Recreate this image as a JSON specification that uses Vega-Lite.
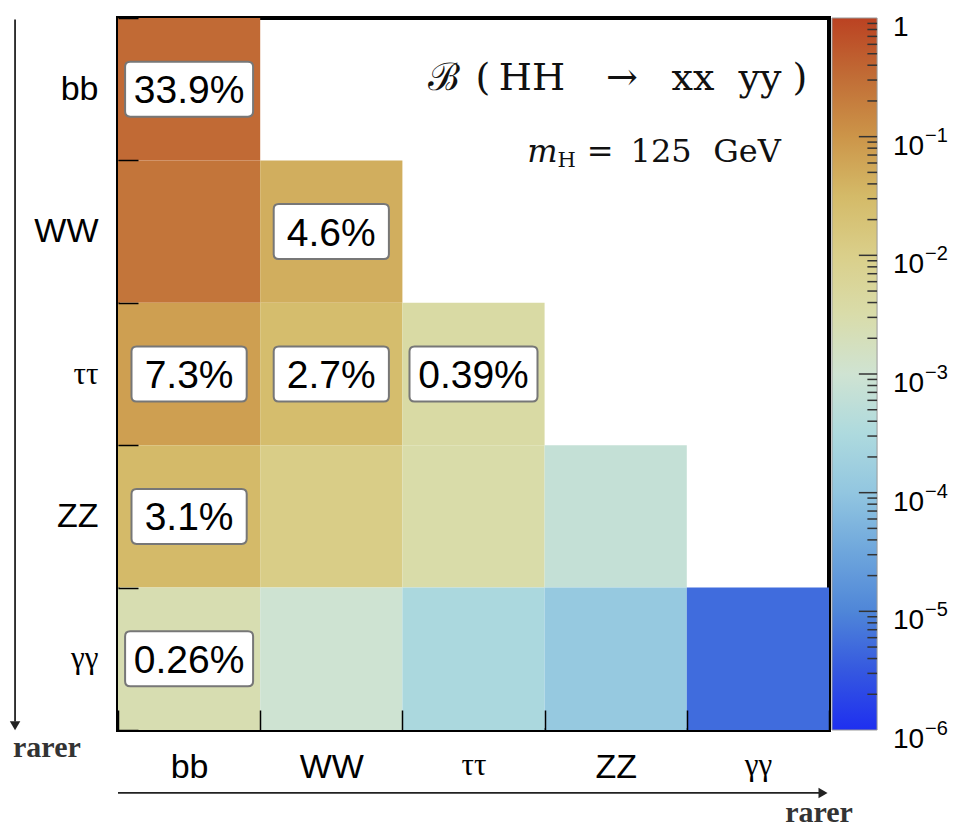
{
  "$schema": "https://vega.github.io/schema/vega-lite/v6.json",
  "description": "Branching fractions of HH into pairs of Higgs decay channels, m_H = 125 GeV.",
  "autosize": {"type": "none"},
  "padding": {"left": 118, "top": 18, "right": 135, "bottom": 97},
  "width": 711,
  "height": 712,
  "background": "white",
  "config": {
    "view": {"stroke": "#000", "strokeWidth": 4, "fill": "white"},
    "axis": {"grid": false}
  },
  "datasets": {
    "cells": [
      {"row": "bb", "col": "bb", "v": 0.339, "label": "33.9%"},
      {"row": "WW", "col": "bb", "v": 0.249, "label": ""},
      {"row": "WW", "col": "WW", "v": 0.046, "label": "4.6%"},
      {"row": "ττ", "col": "bb", "v": 0.073, "label": "7.3%"},
      {"row": "ττ", "col": "WW", "v": 0.027, "label": "2.7%"},
      {"row": "ττ", "col": "ττ", "v": 0.0039, "label": "0.39%"},
      {"row": "ZZ", "col": "bb", "v": 0.031, "label": "3.1%"},
      {"row": "ZZ", "col": "WW", "v": 0.0112, "label": ""},
      {"row": "ZZ", "col": "ττ", "v": 0.00329, "label": ""},
      {"row": "ZZ", "col": "ZZ", "v": 0.000686, "label": ""},
      {"row": "γγ", "col": "bb", "v": 0.0026, "label": "0.26%"},
      {"row": "γγ", "col": "WW", "v": 0.00097, "label": ""},
      {"row": "γγ", "col": "ττ", "v": 0.000285, "label": ""},
      {"row": "γγ", "col": "ZZ", "v": 0.000119, "label": ""},
      {"row": "γγ", "col": "γγ", "v": 0.00000515, "label": ""}
    ],
    "colorbar": [
      {"lo": 0.000001, "hi": 1}
    ],
    "colorbarLabels": [
      {"v": 1, "base": "1", "exp": ""},
      {"v": 0.1, "base": "10", "exp": "−1"},
      {"v": 0.01, "base": "10", "exp": "−2"},
      {"v": 0.001, "base": "10", "exp": "−3"},
      {"v": 0.0001, "base": "10", "exp": "−4"},
      {"v": 0.00001, "base": "10", "exp": "−5"},
      {"v": 0.000001, "base": "10", "exp": "−6"}
    ],
    "colorbarTicks": [
      {"v": 0.00001, "kind": "major"}, {"v": 0.0001, "kind": "major"}, {"v": 0.001, "kind": "major"},
      {"v": 0.01, "kind": "major"}, {"v": 0.1, "kind": "major"},
      {"v": 0.000002, "kind": "minor"}, {"v": 0.000003, "kind": "minor"}, {"v": 0.000004, "kind": "minor"}, {"v": 0.000005, "kind": "minor"},
      {"v": 0.000006, "kind": "minor"}, {"v": 0.000007, "kind": "minor"}, {"v": 0.000008, "kind": "minor"}, {"v": 0.000009, "kind": "minor"},
      {"v": 0.00002, "kind": "minor"}, {"v": 0.00003, "kind": "minor"}, {"v": 0.00004, "kind": "minor"}, {"v": 0.00005, "kind": "minor"},
      {"v": 0.00006, "kind": "minor"}, {"v": 0.00007, "kind": "minor"}, {"v": 0.00008, "kind": "minor"}, {"v": 0.00009, "kind": "minor"},
      {"v": 0.0002, "kind": "minor"}, {"v": 0.0003, "kind": "minor"}, {"v": 0.0004, "kind": "minor"}, {"v": 0.0005, "kind": "minor"},
      {"v": 0.0006, "kind": "minor"}, {"v": 0.0007, "kind": "minor"}, {"v": 0.0008, "kind": "minor"}, {"v": 0.0009, "kind": "minor"},
      {"v": 0.002, "kind": "minor"}, {"v": 0.003, "kind": "minor"}, {"v": 0.004, "kind": "minor"}, {"v": 0.005, "kind": "minor"},
      {"v": 0.006, "kind": "minor"}, {"v": 0.007, "kind": "minor"}, {"v": 0.008, "kind": "minor"}, {"v": 0.009, "kind": "minor"},
      {"v": 0.02, "kind": "minor"}, {"v": 0.03, "kind": "minor"}, {"v": 0.04, "kind": "minor"}, {"v": 0.05, "kind": "minor"},
      {"v": 0.06, "kind": "minor"}, {"v": 0.07, "kind": "minor"}, {"v": 0.08, "kind": "minor"}, {"v": 0.09, "kind": "minor"},
      {"v": 0.2, "kind": "minor"}, {"v": 0.3, "kind": "minor"}, {"v": 0.4, "kind": "minor"}, {"v": 0.5, "kind": "minor"},
      {"v": 0.6, "kind": "minor"}, {"v": 0.7, "kind": "minor"}, {"v": 0.8, "kind": "minor"}, {"v": 0.9, "kind": "minor"}
    ]
  },
  "resolve": {"scale": {"x": "independent", "y": "independent"}},
  "layer": [
    {
      "data": {"name": "cells"},
      "encoding": {
        "x": {
          "field": "col", "type": "nominal",
          "sort": ["bb", "WW", "ττ", "ZZ", "γγ"],
          "scale": {"paddingInner": 0, "paddingOuter": 0},
          "axis": {
            "title": null, "orient": "bottom", "domain": false,
            "ticks": true, "tickBand": "extent", "tickSize": -20, "tickColor": "#000", "tickWidth": 1.5,
            "labelAngle": 0, "labelPadding": 40, "labelColor": "#000",
            "labelFont": {"condition": {"test": "datum.value === 'ττ' || datum.value === 'γγ'", "value": "Liberation Serif"}, "value": "Liberation Sans"},
            "labelFontSize": {"condition": {"test": "datum.value === 'ττ' || datum.value === 'γγ'", "value": 31}, "value": 34}
          }
        },
        "y": {
          "field": "row", "type": "nominal",
          "sort": ["bb", "WW", "ττ", "ZZ", "γγ"],
          "scale": {"paddingInner": 0, "paddingOuter": 0},
          "axis": {
            "title": null, "orient": "left", "domain": false,
            "ticks": true, "tickBand": "extent", "tickSize": -20, "tickColor": "#000", "tickWidth": 1.5,
            "labelPadding": 40, "labelColor": "#000",
            "labelFont": {"condition": {"test": "datum.value === 'ττ' || datum.value === 'γγ'", "value": "Liberation Serif"}, "value": "Liberation Sans"},
            "labelFontSize": {"condition": {"test": "datum.value === 'ττ' || datum.value === 'γγ'", "value": 31}, "value": 34}
          }
        }
      },
      "layer": [
        {
          "mark": {"type": "rect", "strokeWidth": 0},
          "encoding": {
            "color": {
              "field": "v", "type": "quantitative",
              "scale": {
                "type": "log",
                "domain": [0.000001, 0.00000316, 0.00001, 0.0000316, 0.0001, 0.000316, 0.001, 0.00316, 0.01, 0.0316, 0.1, 0.316, 1],
                "range": ["#1e2ff0", "#3558e0", "#4f86d8", "#6ea6dc", "#92c6e0", "#aedade", "#cfe3d2", "#d9dcaa", "#dacf8a", "#d4ba68", "#cc9549", "#c16d36", "#bb4222"],
                "interpolate": "rgb"
              },
              "legend": null
            }
          }
        },
        {
          "transform": [{"filter": "datum.label != ''"}],
          "mark": {"type": "point", "filled": true, "fill": "white", "stroke": "#777", "strokeWidth": 2, "opacity": 1, "size": 16384},
          "encoding": {
            "shape": {
              "condition": {
                "test": "length(datum.label) > 4",
                "value": "M-0.92,-0.43 L0.92,-0.43 Q1,-0.43 1,-0.35 L1,0.35 Q1,0.43 0.92,0.43 L-0.92,0.43 Q-1,0.43 -1,0.35 L-1,-0.35 Q-1,-0.43 -0.92,-0.43 Z"
              },
              "value": "M-0.82,-0.43 L0.82,-0.43 Q0.9,-0.43 0.9,-0.35 L0.9,0.35 Q0.9,0.43 0.82,0.43 L-0.82,0.43 Q-0.9,0.43 -0.9,0.35 L-0.9,-0.35 Q-0.9,-0.43 -0.82,-0.43 Z"
            }
          }
        },
        {
          "transform": [{"filter": "datum.label != ''"}],
          "mark": {"type": "text", "font": "Liberation Sans", "fontSize": 39, "color": "#000", "align": "center", "baseline": "middle", "dy": 2},
          "encoding": {"text": {"field": "label"}}
        }
      ]
    },
    {
      "layer": [
        {
          "data": {"values": [{"x": -0.724, "y": 4.99, "y2": 0.06}]},
          "mark": {"type": "rule", "color": "#222", "strokeWidth": 1.8, "clip": false},
          "encoding": {
            "x": {"field": "x", "type": "quantitative", "scale": {"domain": [0, 5]}, "axis": null},
            "y": {"field": "y", "type": "quantitative", "scale": {"domain": [0, 5]}, "axis": null},
            "y2": {"field": "y2"}
          }
        },
        {
          "data": {"values": [{"x": 0, "x2": 4.94, "y": -0.442}]},
          "mark": {"type": "rule", "color": "#222", "strokeWidth": 1.8, "clip": false},
          "encoding": {
            "x": {"field": "x", "type": "quantitative", "scale": {"domain": [0, 5]}, "axis": null},
            "x2": {"field": "x2"},
            "y": {"field": "y", "type": "quantitative", "scale": {"domain": [0, 5]}, "axis": null}
          }
        },
        {
          "data": {"values": [{"x": -0.724, "y": 0.03, "dir": "down"}, {"x": 4.958, "y": -0.442, "dir": "right"}]},
          "mark": {"type": "point", "filled": true, "color": "#222", "opacity": 1, "size": 110, "clip": false},
          "encoding": {
            "x": {"field": "x", "type": "quantitative", "scale": {"domain": [0, 5]}, "axis": null},
            "y": {"field": "y", "type": "quantitative", "scale": {"domain": [0, 5]}, "axis": null},
            "shape": {"condition": {"test": "datum.dir === 'down'", "value": "triangle-down"}, "value": "triangle-right"}
          }
        },
        {
          "data": {"values": [{"x": -0.5, "y": -0.19, "t": "rarer"}, {"x": 4.93, "y": -0.645, "t": "rarer"}]},
          "mark": {"type": "text", "font": "Liberation Serif", "fontWeight": "bold", "fontSize": 30, "color": "#333", "align": "center", "baseline": "alphabetic", "clip": false},
          "encoding": {
            "x": {"field": "x", "type": "quantitative", "scale": {"domain": [0, 5]}, "axis": null},
            "y": {"field": "y", "type": "quantitative", "scale": {"domain": [0, 5]}, "axis": null},
            "text": {"field": "t"}
          }
        },
        {
          "data": {"values": [
            {"x": 2.293, "y": 4.494, "t": "ℬ"},
            {"x": 2.567, "y": 4.494, "t": "("},
            {"x": 2.911, "y": 4.494, "t": "HH"},
            {"x": 3.544, "y": 4.494, "t": "→"},
            {"x": 4.044, "y": 4.494, "t": "xx"},
            {"x": 4.515, "y": 4.494, "t": "yy"},
            {"x": 4.796, "y": 4.494, "t": ")"}
          ]},
          "mark": {"type": "text", "font": "DejaVu Serif", "fontSize": 38, "color": "#111", "align": "center", "baseline": "alphabetic", "clip": false},
          "encoding": {
            "x": {"field": "x", "type": "quantitative", "scale": {"domain": [0, 5]}, "axis": null},
            "y": {"field": "y", "type": "quantitative", "scale": {"domain": [0, 5]}, "axis": null},
            "text": {"field": "t"}
          }
        },
        {
          "data": {"values": [{"x": 2.985, "y": 3.989, "t": "m"}]},
          "mark": {"type": "text", "font": "DejaVu Serif", "fontStyle": "italic", "fontSize": 32, "color": "#111", "align": "center", "baseline": "alphabetic", "clip": false},
          "encoding": {
            "x": {"field": "x", "type": "quantitative", "scale": {"domain": [0, 5]}, "axis": null},
            "y": {"field": "y", "type": "quantitative", "scale": {"domain": [0, 5]}, "axis": null},
            "text": {"field": "t"}
          }
        },
        {
          "data": {"values": [{"x": 3.155, "y": 3.954, "t": "H"}]},
          "mark": {"type": "text", "font": "DejaVu Serif", "fontSize": 21, "color": "#111", "align": "center", "baseline": "alphabetic", "clip": false},
          "encoding": {
            "x": {"field": "x", "type": "quantitative", "scale": {"domain": [0, 5]}, "axis": null},
            "y": {"field": "y", "type": "quantitative", "scale": {"domain": [0, 5]}, "axis": null},
            "text": {"field": "t"}
          }
        },
        {
          "data": {"values": [
            {"x": 3.39, "y": 3.989, "t": "="},
            {"x": 3.819, "y": 3.989, "t": "125"},
            {"x": 4.423, "y": 3.989, "t": "GeV"}
          ]},
          "mark": {"type": "text", "font": "DejaVu Serif", "fontSize": 32, "color": "#111", "align": "center", "baseline": "alphabetic", "clip": false},
          "encoding": {
            "x": {"field": "x", "type": "quantitative", "scale": {"domain": [0, 5]}, "axis": null},
            "y": {"field": "y", "type": "quantitative", "scale": {"domain": [0, 5]}, "axis": null},
            "text": {"field": "t"}
          }
        }
      ]
    },
    {
      "layer": [
        {
          "data": {"name": "colorbar"},
          "mark": {
            "type": "rect", "clip": false, "stroke": "#999", "strokeWidth": 1,
            "fill": {
              "gradient": "linear", "x1": 0, "y1": 1, "x2": 0, "y2": 0,
              "stops": [
                {"offset": 0, "color": "#1e2ff0"},
                {"offset": 0.0833, "color": "#3558e0"},
                {"offset": 0.1667, "color": "#4f86d8"},
                {"offset": 0.25, "color": "#6ea6dc"},
                {"offset": 0.3333, "color": "#92c6e0"},
                {"offset": 0.4167, "color": "#aedade"},
                {"offset": 0.5, "color": "#cfe3d2"},
                {"offset": 0.5833, "color": "#d9dcaa"},
                {"offset": 0.6667, "color": "#dacf8a"},
                {"offset": 0.75, "color": "#d4ba68"},
                {"offset": 0.8333, "color": "#cc9549"},
                {"offset": 0.9167, "color": "#c16d36"},
                {"offset": 1, "color": "#bb4222"}
              ]
            }
          },
          "encoding": {
            "x": {"datum": 5.021, "type": "quantitative", "scale": {"domain": [0, 5]}, "axis": null},
            "x2": {"datum": 5.338},
            "y": {"field": "lo", "type": "quantitative", "scale": {"type": "log", "domain": [0.000001, 1]}, "axis": null},
            "y2": {"field": "hi"}
          }
        },
        {
          "data": {"name": "colorbarTicks"},
          "transform": [{"filter": "datum.kind === 'major'"}],
          "mark": {"type": "rule", "color": "#333", "strokeWidth": 1.5, "clip": false},
          "encoding": {
            "x": {"datum": 5.21, "type": "quantitative", "scale": {"domain": [0, 5]}, "axis": null},
            "x2": {"datum": 5.338},
            "y": {"field": "v", "type": "quantitative", "scale": {"type": "log", "domain": [0.000001, 1]}, "axis": null}
          }
        },
        {
          "data": {"name": "colorbarTicks"},
          "transform": [{"filter": "datum.kind === 'minor'"}],
          "mark": {"type": "rule", "color": "#333", "strokeWidth": 1.5, "clip": false},
          "encoding": {
            "x": {"datum": 5.27, "type": "quantitative", "scale": {"domain": [0, 5]}, "axis": null},
            "x2": {"datum": 5.338},
            "y": {"field": "v", "type": "quantitative", "scale": {"type": "log", "domain": [0.000001, 1]}, "axis": null}
          }
        },
        {
          "data": {"name": "colorbarLabels"},
          "mark": {"type": "text", "font": "Liberation Sans", "fontSize": 28, "color": "#000", "align": "left", "baseline": "alphabetic", "dy": 18, "clip": false},
          "encoding": {
            "x": {"datum": 5.45, "type": "quantitative", "scale": {"domain": [0, 5]}, "axis": null},
            "y": {"field": "v", "type": "quantitative", "scale": {"type": "log", "domain": [0.000001, 1]}, "axis": null},
            "text": {"field": "base"}
          }
        },
        {
          "data": {"name": "colorbarLabels"},
          "mark": {"type": "text", "font": "Liberation Sans", "fontSize": 20, "color": "#000", "align": "left", "baseline": "alphabetic", "dx": 32, "dy": 5, "clip": false},
          "encoding": {
            "x": {"datum": 5.45, "type": "quantitative", "scale": {"domain": [0, 5]}, "axis": null},
            "y": {"field": "v", "type": "quantitative", "scale": {"type": "log", "domain": [0.000001, 1]}, "axis": null},
            "text": {"field": "exp"}
          }
        }
      ]
    }
  ]
}
